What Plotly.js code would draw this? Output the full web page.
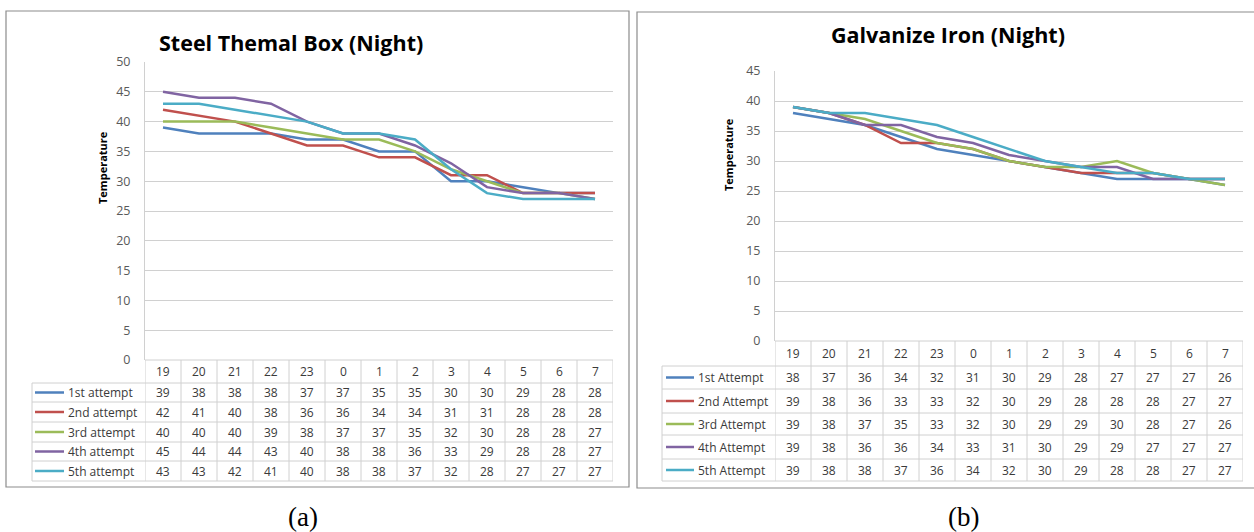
<!DOCTYPE html>
<html>
<head>
<meta charset="utf-8">
<script src="https://cdn.plot.ly/plotly-3.0.1.min.js"></script>
<style>html,body{margin:0;padding:0;background:#fff}#chart{width:1254px;height:532px}</style>
</head>
<body>
<div id="chart"></div>
<script>
// ---------- DATA ----------
const hours = ['19','20','21','22','23','0','1','2','3','4','5','6','7'];

const steelTitle = 'Steel Themal Box (Night)';
const steelLabels = ['1st attempt','2nd attempt','3rd attempt','4th attempt','5th attempt'];
const steel1 = [39,38,38,38,37,37,35,35,30,30,29,28,28];
const steel2 = [42,41,40,38,36,36,34,34,31,31,28,28,28];
const steel3 = [40,40,40,39,38,37,37,35,32,30,28,28,27];
const steel4 = [45,44,44,43,40,38,38,36,33,29,28,28,27];
const steel5 = [43,43,42,41,40,38,38,37,32,28,27,27,27];

const galvTitle = 'Galvanize Iron (Night)';
const galvLabels = ['1st Attempt','2nd Attempt','3rd Attempt','4th Attempt','5th Attempt'];
const galv1 = [38,37,36,34,32,31,30,29,28,27,27,27,26];
const galv2 = [39,38,36,33,33,32,30,29,28,28,28,27,27];
const galv3 = [39,38,37,35,33,32,30,29,29,30,28,27,26];
const galv4 = [39,38,36,36,34,33,31,30,29,29,27,27,27];
const galv5 = [39,38,38,37,36,34,32,30,29,28,28,27,27];

const yTitle = 'Temperature';
const captions = ['(a)','(b)'];

// ---------- STYLE / LAYOUT ----------
const W = 1254, H = 532;
const fx = p => p / W;
const fy = p => 1 - p / H;
const colors = ['#4F81BD','#C0504D','#9BBB59','#8064A2','#4BACC6'];
const FONT = '"Open Sans", Lato, sans-serif';
const GRID = '#D0D0D0';
const TXT = '#3A3A3A';

const panels = [
  { title: steelTitle, labels: steelLabels, series: [steel1,steel2,steel3,steel4,steel5],
    ymax: 50, px: [145,613], py: [62,360], rows: [383,402,422,442,461,481],
    labLeft: 32, legX: [35,64], textX: 66, frame: [6,11,629,487],
    titlePos: [291,42], yTitlePos: [102,167], caption: captions[0], capPos: [303,517] },
  { title: galvTitle, labels: galvLabels, series: [galv1,galv2,galv3,galv4,galv5],
    ymax: 45, px: [775,1243], py: [71,341], rows: [366,389,413,435,459,481],
    labLeft: 662, legX: [666,694], textX: 696, frame: [637,12,1262,488],
    titlePos: [948,35], yTitlePos: [729,155], caption: captions[1], capPos: [963,517] }
];

const data = [];
const shapes = [];
const annotations = [];
const layout = {
  width: W, height: H, margin: {l:0,r:0,t:0,b:0},
  paper_bgcolor: '#fff', plot_bgcolor: '#fff',
  showlegend: false, font: {family: FONT, color: TXT},
  shapes: shapes, annotations: annotations
};

panels.forEach((p, k) => {
  const xa = k === 0 ? 'x' : 'x2';
  const ya = k === 0 ? 'y' : 'y2';
  const xKey = k === 0 ? 'xaxis' : 'xaxis2';
  const yKey = k === 0 ? 'yaxis' : 'yaxis2';
  layout[xKey] = {
    domain: [fx(p.px[0]), fx(p.px[1])], range: [-0.5, hours.length - 0.5],
    showticklabels: false, showgrid: false, zeroline: false, showline: false,
    ticks: '', fixedrange: true, anchor: ya
  };
  layout[yKey] = {
    domain: [fy(p.py[1]), fy(p.py[0])], range: [0, p.ymax], dtick: 5, tick0: 0,
    showgrid: true, gridcolor: GRID, gridwidth: 1, zeroline: false,
    showline: true, linecolor: GRID, linewidth: 1,
    ticks: 'outside', ticklen: 11, tickcolor: 'rgba(0,0,0,0)',
    tickfont: {family: FONT, size: 12.5, color: '#595959'}, fixedrange: true, anchor: xa
  };

  // lines
  p.series.forEach((s, i) => {
    data.push({
      type: 'scatter', mode: 'lines', x: hours.map((h, j) => j), y: s,
      xaxis: xa, yaxis: ya, name: p.labels[i],
      line: {color: colors[i], width: 2.5}, hoverinfo: 'skip'
    });
  });

  // frame
  shapes.push({type:'rect', xref:'paper', yref:'paper',
    x0: fx(p.frame[0]), x1: fx(p.frame[2]), y0: fy(p.frame[3]), y1: fy(p.frame[1]),
    line: {color: '#8C8C8C', width: 1.2}, fillcolor: 'rgba(0,0,0,0)', layer: 'below'});

  const rowsAll = [p.py[1]].concat(p.rows);
  shapes.push({type:'line', xref:'paper', yref:'paper', x0: fx(p.px[0]), x1: fx(p.px[1]),
    y0: fy(p.py[1]), y1: fy(p.py[1]), line: {color: GRID, width: 1}});
  p.rows.forEach(r => {
    shapes.push({type:'line', xref:'paper', yref:'paper', x0: fx(p.labLeft), x1: fx(p.px[1]),
      y0: fy(r), y1: fy(r), line: {color: GRID, width: 1}});
  });
  for (let j = 0; j <= hours.length; j++) {
    shapes.push({type:'line', xref: xa, yref:'paper', x0: j - 0.5, x1: j - 0.5,
      y0: fy(p.py[1]), y1: fy(p.rows[p.rows.length-1]), line: {color: GRID, width: 1}});
  }
  shapes.push({type:'line', xref:'paper', yref:'paper', x0: fx(p.labLeft), x1: fx(p.labLeft),
    y0: fy(p.rows[0]), y1: fy(p.rows[p.rows.length-1]), line: {color: GRID, width: 1}});

  // header text
  hours.forEach((h, j) => {
    annotations.push({xref: xa, yref: 'paper', x: j, y: fy((rowsAll[0] + rowsAll[1]) / 2),
      text: h, showarrow: false, xanchor: 'center', yanchor: 'middle',
      font: {family: FONT, size: 12, color: TXT}});
  });
  // rows
  p.series.forEach((s, i) => {
    const yc = fy((rowsAll[i+1] + rowsAll[i+2]) / 2);
    s.forEach((v, j) => {
      annotations.push({xref: xa, yref: 'paper', x: j, y: yc, text: String(v),
        showarrow: false, xanchor: 'center', yanchor: 'middle',
        font: {family: FONT, size: 12, color: TXT}});
    });
    annotations.push({xref: 'paper', yref: 'paper', x: fx(p.textX), y: yc, text: p.labels[i],
      showarrow: false, xanchor: 'left', yanchor: 'middle',
      font: {family: FONT, size: 12, color: TXT}});
    shapes.push({type:'line', xref:'paper', yref:'paper', x0: fx(p.legX[0]), x1: fx(p.legX[1]),
      y0: yc, y1: yc, line: {color: colors[i], width: 2.5}});
  });

  // titles
  annotations.push({xref:'paper', yref:'paper', x: fx(p.titlePos[0]), y: fy(p.titlePos[1]),
    text: '<b>' + p.title + '</b>', showarrow: false, xanchor: 'center', yanchor: 'middle',
    font: {family: FONT, size: 21.5, color: '#000'}});
  annotations.push({xref:'paper', yref:'paper', x: fx(p.yTitlePos[0]), y: fy(p.yTitlePos[1]),
    text: '<b>' + yTitle + '</b>', showarrow: false, textangle: -90,
    xanchor: 'center', yanchor: 'middle', font: {family: FONT, size: 11, color: '#000'}});
  annotations.push({xref:'paper', yref:'paper', x: fx(p.capPos[0]), y: fy(p.capPos[1]),
    text: p.caption, showarrow: false, xanchor: 'center', yanchor: 'middle',
    font: {family: '"Liberation Serif", "Times New Roman", serif', size: 27, color: '#000'}});
});

Plotly.newPlot('chart', data, layout, {displayModeBar: false, staticPlot: true});
</script>
</body>
</html>
